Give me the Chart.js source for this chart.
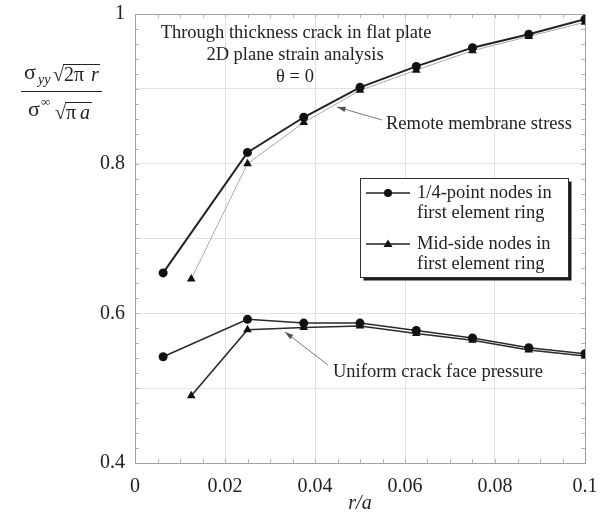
<!DOCTYPE html>
<html>
<head>
<meta charset="utf-8">
<script src="https://cdn.jsdelivr.net/npm/chart.js@4"></script>
<style>
  html, body { margin: 0; padding: 0; background: #fff; }
  #wrap { width: 606px; height: 514px; }
</style>
</head>
<body>
<div id="wrap"><canvas id="crackChart" width="606" height="514"></canvas></div>
<script>
// r/a positions
const xQuarter = [0.00625, 0.025, 0.0375, 0.05, 0.0625, 0.075, 0.0875, 0.1];
const xMid = [0.0125, 0.025, 0.0375, 0.05, 0.0625, 0.075, 0.0875, 0.1];

// normalised stress, remote membrane stress
const remoteQuarter = [0.654, 0.815, 0.862, 0.902, 0.930, 0.955, 0.973, 0.993];
const remoteMid = [0.646, 0.800, 0.855, 0.898, 0.925, 0.951, 0.970, 0.989];

// normalised stress, uniform crack face pressure
const uniformQuarter = [0.542, 0.592, 0.587, 0.587, 0.577, 0.567, 0.554, 0.546];
const uniformMid = [0.490, 0.578, 0.581, 0.583, 0.573, 0.564, 0.551, 0.543];

const xTicks = [0, 0.02, 0.04, 0.06, 0.08, 0.1];
const yTickLabels = [0.4, 0.6, 0.8, 1];

const legendLabels = [
  ['1/4-point nodes in', 'first element ring'],
  ['Mid-side nodes in', 'first element ring']
];

const SERIF = '"Liberation Serif", "DejaVu Serif", serif';

function pts(xs, ys) {
  return xs.map((x, i) => ({ x: x, y: ys[i] }));
}

function series(data, style, width, color) {
  return {
    data: data,
    showLine: true,
    borderColor: color,
    borderWidth: width,
    pointStyle: style,
    pointRadius: style === 'circle' ? 4.5 : 5,
    pointBackgroundColor: '#111',
    pointBorderColor: '#111',
    pointBorderWidth: 0
  };
}

// grey frame + short inward minor ticks
const framePlugin = {
  id: 'frame',
  beforeDatasetsDraw(chart) {
    const { ctx, chartArea: a, scales } = chart;
    ctx.save();
    ctx.strokeStyle = '#b5b5b5';
    ctx.lineWidth = 1;
    ctx.beginPath();
    for (let v = 0.005; v < 0.1; v += 0.005) {
      const px = Math.round(scales.x.getPixelForValue(v)) + 0.5;
      ctx.moveTo(px, a.bottom); ctx.lineTo(px, a.bottom - 4);
      ctx.moveTo(px, a.top); ctx.lineTo(px, a.top + 4);
    }
    for (let v = 0.42; v < 1; v += 0.02) {
      const py = Math.round(scales.y.getPixelForValue(v)) + 0.5;
      ctx.moveTo(a.left, py); ctx.lineTo(a.left + 4, py);
      ctx.moveTo(a.right, py); ctx.lineTo(a.right - 4, py);
    }
    ctx.stroke();
    ctx.strokeStyle = '#a0a0a0';
    ctx.strokeRect(a.left + 0.5, a.top + 0.5, a.right - a.left, a.bottom - a.top);
    ctx.restore();
  }
};

function arrow(ctx, x1, y1, x2, y2) {
  const ang = Math.atan2(y2 - y1, x2 - x1);
  ctx.beginPath();
  ctx.moveTo(x1, y1);
  ctx.lineTo(x2, y2);
  ctx.stroke();
  ctx.beginPath();
  ctx.moveTo(x2, y2);
  ctx.lineTo(x2 - 9 * Math.cos(ang - 0.3), y2 - 9 * Math.sin(ang - 0.3));
  ctx.lineTo(x2 - 9 * Math.cos(ang + 0.3), y2 - 9 * Math.sin(ang + 0.3));
  ctx.closePath();
  ctx.fill();
}

const notesPlugin = {
  id: 'notes',
  afterDraw(chart) {
    const ctx = chart.ctx;
    ctx.save();
    ctx.fillStyle = '#222';
    ctx.textBaseline = 'middle';

    // heading inside plot
    ctx.font = '18.5px ' + SERIF;
    ctx.textAlign = 'center';
    ctx.fillText('Through thickness crack in flat plate', 296, 33);
    ctx.fillText('2D plane strain analysis', 295, 55);
    ctx.fillText('\u03b8 = 0', 295, 77);

    // curve labels
    ctx.textAlign = 'left';
    ctx.fillText('Remote membrane stress', 386, 124);
    ctx.fillText('Uniform crack face pressure', 333, 372);
    ctx.strokeStyle = '#777';
    ctx.fillStyle = '#555';
    ctx.lineWidth = 1;
    arrow(ctx, 382, 120, 337, 107);
    arrow(ctx, 328, 365, 285, 332);

    // legend box with drop shadow
    const bx = 360.5, by = 178.5, bw = 208, bh = 99;
    ctx.fillStyle = '#1a1a1a';
    ctx.fillRect(bx + 3, by + 3, bw, bh);
    ctx.fillStyle = '#fff';
    ctx.fillRect(bx, by, bw, bh);
    ctx.strokeStyle = '#333';
    ctx.strokeRect(bx, by, bw, bh);

    const rows = [193, 244];
    chart.data.datasets.slice(0, 2).forEach((ds, i) => {
      const y = rows[i];
      ctx.strokeStyle = '#222';
      ctx.lineWidth = 1.5;
      ctx.beginPath();
      ctx.moveTo(366, y); ctx.lineTo(410, y);
      ctx.stroke();
      ctx.fillStyle = '#111';
      ctx.beginPath();
      if (ds.pointStyle === 'circle') {
        ctx.arc(388, y, 4, 0, Math.PI * 2);
      } else {
        ctx.moveTo(388, y - 4.5); ctx.lineTo(392.5, y + 3); ctx.lineTo(383.5, y + 3);
        ctx.closePath();
      }
      ctx.fill();
      ctx.fillStyle = '#222';
      ctx.font = '18.5px ' + SERIF;
      ctx.fillText(legendLabels[i][0], 417, y);
      ctx.fillText(legendLabels[i][1], 417, y + 20.5);
    });

    // y axis title as a fraction
    ctx.fillStyle = '#222';
    ctx.strokeStyle = '#222';
    ctx.lineWidth = 1;
    ctx.textBaseline = 'alphabetic';
    ctx.font = '22px ' + SERIF;
    ctx.fillText('\u03c3', 24, 79);
    ctx.font = 'italic 14px ' + SERIF;
    ctx.fillText('yy', 38, 84);
    ctx.font = '20px ' + SERIF;
    ctx.fillText('\u221a', 53, 81);
    ctx.fillText('2\u03c0', 64, 81);
    ctx.font = 'italic 20px ' + SERIF;
    ctx.fillText('r', 91, 81);
    ctx.beginPath();
    ctx.moveTo(63, 64.5); ctx.lineTo(100, 64.5);
    ctx.stroke();

    ctx.beginPath();
    ctx.moveTo(21, 91.5); ctx.lineTo(102, 91.5);
    ctx.stroke();

    ctx.font = '22px ' + SERIF;
    ctx.fillText('\u03c3', 28, 116);
    ctx.font = '13px ' + SERIF;
    ctx.fillText('\u221e', 41, 106);
    ctx.font = '20px ' + SERIF;
    ctx.fillText('\u221a', 55, 119);
    ctx.fillText('\u03c0', 66, 119);
    ctx.font = 'italic 20px ' + SERIF;
    ctx.fillText('a', 80, 119);
    ctx.beginPath();
    ctx.moveTo(65, 102.5); ctx.lineTo(92, 102.5);
    ctx.stroke();

    ctx.restore();
  }
};

new Chart(document.getElementById('crackChart').getContext('2d'), {
  type: 'scatter',
  data: {
    datasets: [
      series(pts(xQuarter, remoteQuarter), 'circle', 2, '#222'),
      series(pts(xMid, remoteMid), 'triangle', 1, '#a8a8a8'),
      series(pts(xQuarter, uniformQuarter), 'circle', 1.6, '#2a2a2a'),
      series(pts(xMid, uniformMid), 'triangle', 1.6, '#2a2a2a')
    ]
  },
  options: {
    responsive: false,
    animation: false,
    layout: { padding: { left: 0, right: 21, top: 14, bottom: 0 } },
    plugins: {
      legend: { display: false },
      tooltip: { enabled: false }
    },
    scales: {
      x: {
        type: 'linear',
        min: 0,
        max: 0.1,
        afterFit: s => {
          s.height = 51;
          s.paddingLeft = 0;
          s.paddingRight = 0;
        },
        afterBuildTicks: s => { s.ticks = xTicks.map(v => ({ value: v })); },
        grid: { color: '#e2e2e2', drawTicks: false },
        border: { display: false },
        ticks: {
          padding: 12,
          color: '#222',
          font: { family: SERIF, size: 20 },
          callback: v => String(+v.toFixed(2))
        },
        title: {
          display: true,
          text: 'r/a',
          color: '#222',
          padding: 0,
          font: { family: SERIF, size: 20, style: 'italic', lineHeight: 1 }
        }
      },
      y: {
        type: 'linear',
        min: 0.4,
        max: 1,
        afterFit: s => {
          s.width = 135;
          s.paddingTop = 0;
          s.paddingBottom = 0;
        },
        ticks: {
          stepSize: 0.1,
          padding: 10,
          color: '#222',
          font: { family: SERIF, size: 20 },
          callback: v => {
            const r = Math.round(v * 10) / 10;
            return yTickLabels.some(t => Math.abs(t - r) < 1e-9) ? String(r) : '';
          }
        },
        grid: { color: '#e2e2e2', drawTicks: false },
        border: { display: false }
      }
    }
  },
  plugins: [framePlugin, notesPlugin]
});
</script>
</body>
</html>
